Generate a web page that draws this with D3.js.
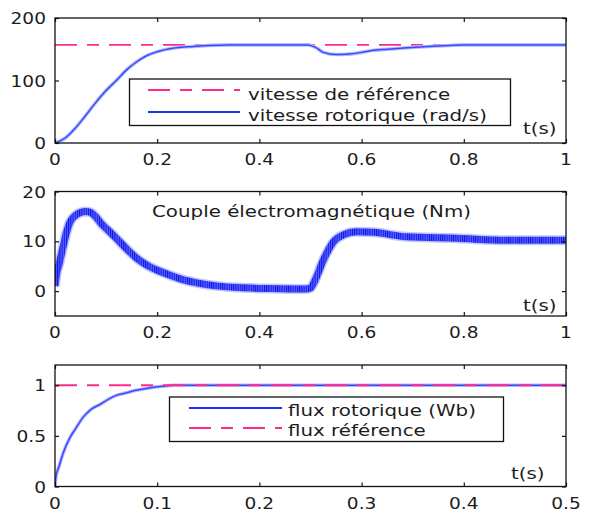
<!DOCTYPE html>
<html>
<head>
<meta charset="utf-8">
<script src="https://cdn.jsdelivr.net/npm/d3@7"></script>
<style>
  html, body { margin: 0; padding: 0; background: #fff; }
  svg { display: block; }
  text { font-family: "DejaVu Sans", Verdana, sans-serif; fill: #1c1c1c; }
</style>
</head>
<body>
<svg id="fig" width="591" height="512"></svg>
<script>
// ---- Speed (rad/s) vs time (s) ----
const speedT   = [0, 0.02, 0.04, 0.06, 0.08, 0.1, 0.12, 0.14, 0.16, 0.18, 0.2, 0.23, 0.27, 0.3, 0.34, 0.495, 0.51, 0.525, 0.55, 0.57, 0.6, 0.62, 0.65, 0.69, 0.73, 0.77, 0.8, 1.0];
const speedVal = [0, 8, 24, 44, 65, 84, 100, 117, 130, 140, 146, 151.5, 154.5, 156, 157, 157, 153, 145, 141.5, 142, 145, 148, 150, 152.5, 154.5, 156, 157, 157];
const speedRefT   = [0, 1];
const speedRefVal = [157, 157];

// ---- Electromagnetic torque (Nm) vs time (s) ----
const torqueT   = [0, 0.003, 0.007, 0.016, 0.023, 0.03, 0.04, 0.05, 0.06, 0.07, 0.08, 0.09, 0.1, 0.12, 0.14, 0.16, 0.18, 0.2, 0.22, 0.25, 0.28, 0.32, 0.36, 0.42, 0.49, 0.5, 0.509, 0.525, 0.545, 0.564, 0.59, 0.623, 0.688, 0.786, 0.884, 1.0];
const torqueVal = [1, 3.5, 5, 9, 12, 14, 15.2, 15.8, 16, 15.8, 14.9, 13.6, 12.6, 10.6, 8.5, 6.6, 5.2, 4.2, 3.4, 2.3, 1.6, 1.0, 0.7, 0.5, 0.4, 0.6, 2.2, 6.2, 9.9, 11.3, 11.9, 11.8, 10.9, 10.6, 10.2, 10.2];

// ---- Rotor flux (Wb) vs time (s) ----
const fluxT   = [0, 0.001, 0.004, 0.008, 0.015, 0.02, 0.028, 0.035, 0.044, 0.052, 0.06, 0.07, 0.077, 0.085, 0.093, 0.105, 0.116, 0.5];
const fluxVal = [0, 0.1, 0.2, 0.33, 0.49, 0.57, 0.69, 0.76, 0.81, 0.86, 0.9, 0.925, 0.945, 0.96, 0.975, 0.99, 1.0, 1.0];
const fluxRefT   = [0, 0.5];
const fluxRefVal = [1, 1];

// ---- Ticks and labels ----
const ticksX1 = [0, 0.2, 0.4, 0.6, 0.8, 1];
const ticksX3 = [0, 0.1, 0.2, 0.3, 0.4, 0.5];
const ticksY1 = [0, 100, 200];
const ticksY2 = [0, 10, 20];
const ticksY3 = [0, 0.5, 1];
const legend1 = ["vitesse de référence", "vitesse rotorique (rad/s)"];
const legend3 = ["flux rotorique (Wb)", "flux référence"];
const torqueTitle = "Couple électromagnétique (Nm)";
const timeLabel = "t(s)";

const PINK = "#ff2a8c";
const BLUE = "#2230ff";
const DASH = "22,10,12,10";
const SX = 1.24;          // horizontal stretch applied to the lettering

const svg = d3.select("#fig");
svg.append("rect").attr("width", 591).attr("height", 512).attr("fill", "#fff");

const defs = svg.append("defs");
// vertical hatch used to render the ripple band of the torque trace
const hatch = defs.append("pattern").attr("id", "ripple")
  .attr("patternUnits", "userSpaceOnUse").attr("width", 2.2).attr("height", 20);
hatch.append("rect").attr("width", 2.2).attr("height", 20).attr("fill", "#5563ff");
hatch.append("rect").attr("width", 1).attr("height", 20).attr("fill", "#0f12e8");

function stretchedText(g, x, y, str, size, anchor) {
  return g.append("text")
    .attr("transform", `translate(${x},${y}) scale(${SX},1)`)
    .attr("text-anchor", anchor || "start")
    .style("font-size", size + "px")
    .text(str);
}

function panel(cfg) {
  const x = d3.scaleLinear().domain(cfg.xDomain).range([55, 566]);
  const y = d3.scaleLinear().domain(cfg.yDomain).range([cfg.bottom, cfg.top]);
  const g = svg.append("g");
  const id = "clip" + cfg.name;
  defs.append("clipPath").attr("id", id).append("rect")
    .attr("x", 55).attr("y", cfg.top).attr("width", 511).attr("height", cfg.bottom - cfg.top);
  const plot = g.append("g").attr("clip-path", `url(#${id})`);

  // inward ticks on all four sides
  const axes = [
    [d3.axisBottom(x).tickValues(cfg.ticksX), `translate(0,${cfg.bottom})`],
    [d3.axisTop(x).tickValues(cfg.ticksX), `translate(0,${cfg.top})`],
    [d3.axisLeft(y).tickValues(cfg.ticksY), `translate(55,0)`],
    [d3.axisRight(y).tickValues(cfg.ticksY), `translate(566,0)`]
  ];
  axes.forEach(([ax, tr]) => {
    const a = g.append("g").attr("transform", tr)
      .call(ax.tickSize(-4).tickFormat(""));
    a.select(".domain").remove();
    a.selectAll("line").attr("stroke", "#111").attr("stroke-width", 1.2);
  });

  // tick labels
  const fmt = d3.format("~g");
  cfg.ticksX.forEach(v => stretchedText(g, x(v), cfg.bottom + 22, fmt(v), 15, "middle"));
  cfg.ticksY.forEach(v => stretchedText(g, 46, y(v) + 6, fmt(v), 15, "end"));

  return { x, y, g, plot };
}

const line = (x, y) => d3.line().x(d => x(d[0])).y(d => y(d[1])).curve(d3.curveMonotoneX);

// ===== Panel 1: speed =====
{
  const p = panel({ name: "a", xDomain: [0, 1], yDomain: [0, 200], top: 18, bottom: 143, ticksX: ticksX1, ticksY: ticksY1 });
  const ref = d3.zip(speedRefT, speedRefVal);
  const sp = d3.zip(speedT, speedVal);
  p.plot.append("path").datum(ref).attr("d", line(p.x, p.y))
    .attr("fill", "none").attr("stroke", PINK).attr("stroke-width", 1.8).attr("stroke-dasharray", DASH);
  p.plot.append("path").datum(sp).attr("d", line(p.x, p.y))
    .attr("fill", "none").attr("stroke", "#b4bbff").attr("stroke-width", 3.6);
  p.plot.append("path").datum(sp).attr("d", line(p.x, p.y))
    .attr("fill", "none").attr("stroke", "#3a48ff").attr("stroke-width", 1.5);

  // legend
  const L = p.g.append("g");
  L.append("rect").attr("x", 129.5).attr("y", 79).attr("width", 381).attr("height", 46.5)
    .attr("fill", "#fff").attr("stroke", "#111").attr("stroke-width", 1.3);
  L.append("line").attr("x1", 148).attr("x2", 240).attr("y1", 90).attr("y2", 90)
    .attr("stroke", PINK).attr("stroke-width", 1.8).attr("stroke-dasharray", DASH);
  L.append("line").attr("x1", 148).attr("x2", 240).attr("y1", 112).attr("y2", 112)
    .attr("stroke", BLUE).attr("stroke-width", 1.8);
  stretchedText(L, 248, 100, legend1[0], 16);
  stretchedText(L, 248, 121, legend1[1], 16);

  stretchedText(p.g, 523, 134, timeLabel, 16);
  p.g.append("rect").attr("x", 55).attr("y", 18).attr("width", 511).attr("height", 125)
    .attr("fill", "none").attr("stroke", "#111").attr("stroke-width", 1.3);
}

// ===== Panel 2: torque =====
{
  const p = panel({ name: "b", xDomain: [0, 1], yDomain: [-5, 20], top: 191.5, bottom: 316, ticksX: ticksX1, ticksY: ticksY2 });
  const tq = d3.zip(torqueT, torqueVal);
  p.plot.append("path").datum(tq).attr("d", line(p.x, p.y))
    .attr("fill", "none").attr("stroke", "#c3c9ff").attr("stroke-width", 10).attr("stroke-linejoin", "round");
  p.plot.append("path").datum(tq).attr("d", line(p.x, p.y))
    .attr("fill", "none").attr("stroke", "url(#ripple)").attr("stroke-width", 7).attr("stroke-linejoin", "round");

  stretchedText(p.g, 152, 217, torqueTitle, 16);
  stretchedText(p.g, 523, 311, timeLabel, 16);
  p.g.append("rect").attr("x", 55).attr("y", 191.5).attr("width", 511).attr("height", 124.5)
    .attr("fill", "none").attr("stroke", "#111").attr("stroke-width", 1.3);
}

// ===== Panel 3: flux =====
{
  const p = panel({ name: "c", xDomain: [0, 0.5], yDomain: [0, 1.2], top: 365, bottom: 486.5, ticksX: ticksX3, ticksY: ticksY3 });
  const fl = d3.zip(fluxT, fluxVal);
  const ref = d3.zip(fluxRefT, fluxRefVal);
  p.plot.append("path").datum(fl).attr("d", line(p.x, p.y))
    .attr("fill", "none").attr("stroke", "#b4bbff").attr("stroke-width", 3.6);
  p.plot.append("path").datum(fl).attr("d", line(p.x, p.y))
    .attr("fill", "none").attr("stroke", "#3a48ff").attr("stroke-width", 1.5);
  p.plot.append("path").datum(ref).attr("d", line(p.x, p.y))
    .attr("fill", "none").attr("stroke", PINK).attr("stroke-width", 1.8).attr("stroke-dasharray", DASH);

  const L = p.g.append("g");
  L.append("rect").attr("x", 169.5).attr("y", 397).attr("width", 334).attr("height", 44.5)
    .attr("fill", "#fff").attr("stroke", "#111").attr("stroke-width", 1.3);
  L.append("line").attr("x1", 189).attr("x2", 282).attr("y1", 408).attr("y2", 408)
    .attr("stroke", BLUE).attr("stroke-width", 1.8);
  L.append("line").attr("x1", 189).attr("x2", 282).attr("y1", 428).attr("y2", 428)
    .attr("stroke", PINK).attr("stroke-width", 1.8).attr("stroke-dasharray", DASH);
  stretchedText(L, 288, 416, legend3[0], 16);
  stretchedText(L, 288, 436, legend3[1], 16);

  stretchedText(p.g, 511, 479, timeLabel, 16);
  p.g.append("rect").attr("x", 55).attr("y", 365).attr("width", 511).attr("height", 121.5)
    .attr("fill", "none").attr("stroke", "#111").attr("stroke-width", 1.3);
}
</script>
</body>
</html>
